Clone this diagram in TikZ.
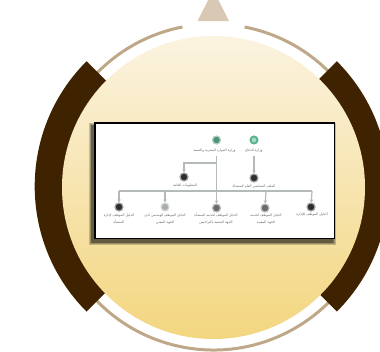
\documentclass[tikz,border=0pt]{standalone}
\usepackage{fontspec}
\newfontfamily\arabicfont[Script=Arabic]{DejaVu Sans}
\TeXXeTstate=1
\usetikzlibrary{arrows.meta}
\definecolor{brownband}{HTML}{3F2300}
\definecolor{tanring}{HTML}{BFA888}
\definecolor{tantri}{HTML}{D9C8B4}
\definecolor{discTop}{HTML}{FBF3E0}
\definecolor{discBot}{HTML}{F3D67F}
\definecolor{linkgrey}{HTML}{B4BAB6}
\definecolor{iconDark}{HTML}{2E2E2E}
\definecolor{iconMid}{HTML}{6A6A6A}
\definecolor{iconPale}{HTML}{A8AEA8}
\definecolor{iconGreen}{HTML}{4F9478}
\definecolor{iconMint}{HTML}{A9DCC6}
\definecolor{iconMintRim}{HTML}{5DB391}
\tikzset{
  pict/.style={x=1pt,y=-1pt},
  band/.style={fill=brownband,draw=none},
  icon/.style={circle,minimum size=8pt,inner sep=0pt,fill=#1,draw=#1!45!white,line width=1.2pt},
  lbl/.style={font=\arabicfont\fontsize{3.4}{7}\selectfont,text=black!85,opacity=.7,align=center,inner sep=0pt},
  link/.style={draw=linkgrey,line width=1.2pt},
  arr/.style={link,-{Stealth[length=3pt,width=3.5pt]}}
}
\newcommand{\ar}[1]{\beginR #1\endR}
\begin{document}
\begin{tikzpicture}[pict]
\useasboundingbox (0,0) rectangle (380,351);
\clip (0,0) rectangle (380,351);
\coordinate (c) at (213.5,187.5);
\coordinate (rc) at (213.5,187);
\coordinate (bc) at (211.7,186.4);
% ring and top triangle
\draw[tanring,line width=3pt] (rc) ++(-79:163) arc[start angle=-79,end angle=259,radius=163];
\fill[tantri] (197.5,21) -- (213.3,-10) -- (229,21) -- cycle;
% bands, the disc lies over their inner edge
\fill[band] (bc) ++(225:177) arc[start angle=225,end angle=135,radius=177]
  -- ++(-45:37) arc[start angle=135,end angle=225,radius=140] -- cycle;
\fill[band] (bc) ++(-45:177) arc[start angle=-45,end angle=45,radius=177]
  -- ++(-135:37) arc[start angle=45,end angle=-45,radius=140] -- cycle;
% disc
\shade[top color=discTop,bottom color=discBot] (c) circle[radius=151.5];
% card shadow
\foreach \g in {3,2.2,1.4,.6}
  \fill[black,opacity=.2] (92-\g,126-\g) rectangle (332.5+\g,242+\g);
% card
\node[draw=black,line width=1.2pt,fill=white,minimum width=239.5pt,minimum height=115.5pt,inner sep=0pt,outer sep=0pt] (card) at (214.75,180.75) {};
% top nodes
\node[icon=iconGreen] (g1) at (216.5,140) {};
\node[circle,minimum size=7pt,inner sep=0pt,fill=iconMint,draw=iconMintRim,line width=2pt] (g2) at (254,140) {};
\node[lbl] (t1) at (214.5,151) {\ar{وزارة الموارد البشرية والتنمية}};
\node[lbl] (t2) at (254,151) {\ar{وزارة الدفاع}};
\coordinate (j) at (216.5,163);
\coordinate (ja) at (184,163);
\coordinate (t1d) at (216.5,156);
\coordinate (t2d) at (254,156);
\node[icon=iconDark] (a) at (184,177) {};
\node[icon=iconDark] (b) at (254,178) {};
\node[lbl] (ta) at (185,186) {\ar{المعلومات العامة}};
\node[lbl] (tb) at (254,186) {\ar{الملف الشخصي العام للمنشأة}};
% bus
\coordinate (bl) at (119,191);
\coordinate (br) at (312,191);
\coordinate (b1) at (165,191);
\coordinate (b3) at (266,191);
\node[icon=iconDark] (n1) at (119,207) {};
\node[icon=iconPale] (n2) at (165,207) {};
\node[icon=iconMid] (n3) at (216.5,208) {};
\node[icon=iconMid] (n4) at (265,208) {};
\node[icon=iconDark] (n5) at (311,207) {};
\node[lbl] (l1) at (119,219) {\ar{الدليل الموظف لإدارة}\\\ar{المنشأة}};
\node[lbl] (l2) at (165,219) {\ar{الدليل الموظف الهندسي لدى}\\\ar{الجهة المعني}};
\node[lbl] (l3) at (216,219) {\ar{الدليل الموظف لخدمة المنشأة}\\\ar{الجهة المعنية بالتراخيص}};
\node[lbl] (l4) at (266,219) {\ar{الدليل الموظف لخدمة}\\\ar{الجهة المعنية}};
\node[lbl] (l5) at (312,215) {\ar{الدليل الموظف للإدارة}};
% connectors
\draw[link] (t1d) -- (j);
\draw[arr] (j) -- (ja) -- (a);
\draw[arr] (j) -- (n3);
\draw[arr] (t2d) -- (b);
\draw[link] (bl) -- (br);
\draw[arr] (bl) -- (n1);
\draw[arr] (b1) -- (n2);
\draw[arr] (b3) -- (n4);
\draw[arr] (br) -- (n5);
\end{tikzpicture}
\end{document}
